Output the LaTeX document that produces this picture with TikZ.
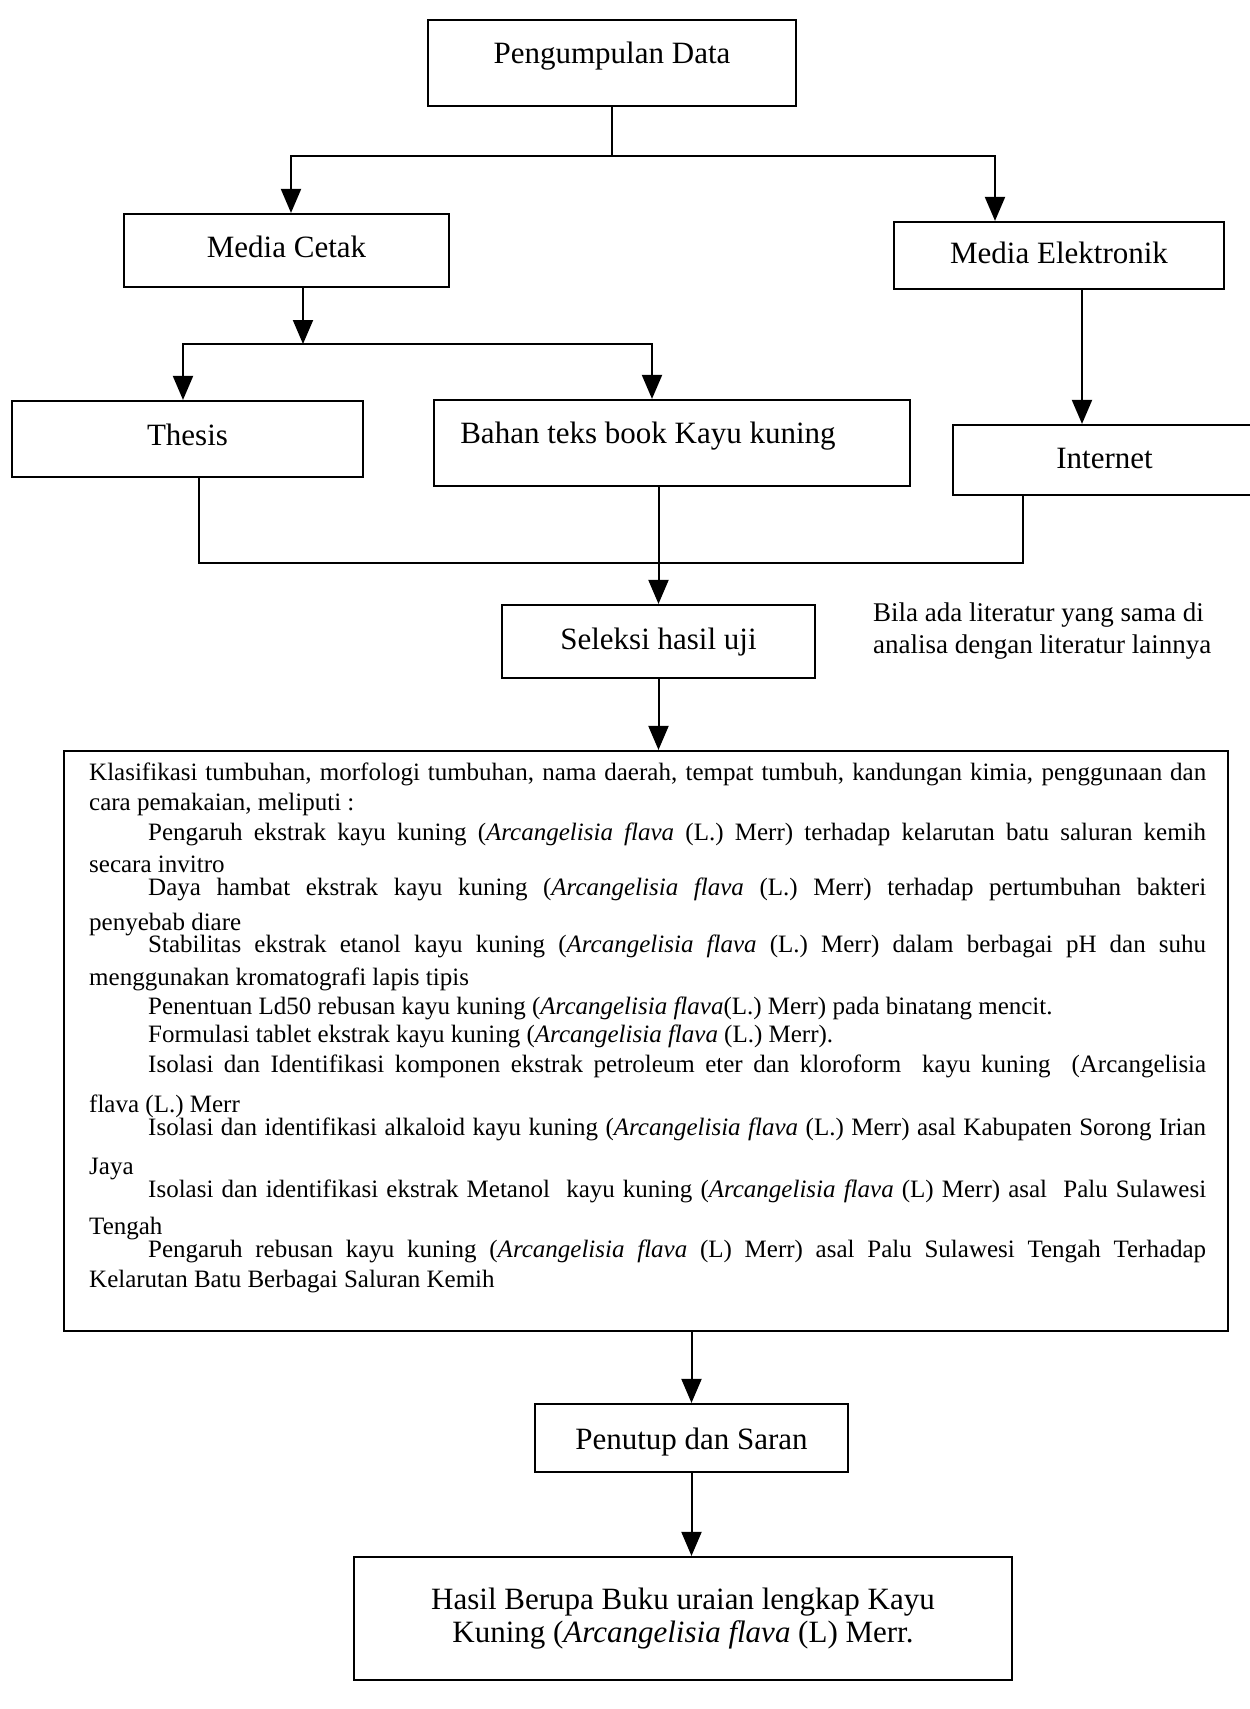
\documentclass[tikz,border=0pt]{standalone}
\usepackage{fontspec}
\setmainfont{Liberation Serif}
\usetikzlibrary{arrows.meta,calc}
\newcommand{\arcfl}{\textit{Arcangelisia flava}}
\begin{document}
\begin{tikzpicture}[x=1pt,y=-1pt,
  box/.style={draw, line width=2.2pt, inner xsep=4pt, inner ysep=0pt, font=\fontsize{31}{37}\selectfont},
  arr/.style={line width=2pt, -{Triangle[length=24pt,width=20pt]}},
  conn/.style={line width=2pt},
  txt/.style={font=\fontsize{25}{29}\selectfont, inner sep=0pt, anchor=mid west}]
\fill[white] (0,0) rectangle (1250,1709);
\useasboundingbox (0,0) rectangle (1250,1709);

% boxes
\node[box, minimum width=368pt, text height=43pt, text depth=43pt] (pd) at (612,63) {Pengumpulan Data};
\node[box, minimum width=325pt, text height=43pt, text depth=30pt] (mc) at (286.5,250.5) {Media Cetak};
\node[box, minimum width=330pt, text height=41pt, text depth=26pt] (me) at (1059,255.5) {Media Elektronik};
\node[box, minimum width=351pt, text height=44pt, text depth=32pt] (th) at (187.5,439) {Thesis};
\node[box, minimum width=476pt, text height=43pt, text depth=43pt] (bt) at (672,443) {\hspace*{-48pt}Bahan teks book Kayu kuning};
\node[box, minimum width=303pt, text height=43pt, text depth=27pt] (it) at (1104.5,460) {Internet};
\node[box, minimum width=313pt, text height=44pt, text depth=29pt] (sl) at (658.5,641.5) {Seleksi hasil uji};
\node[anchor=north west, inner sep=0pt, align=left, font=\fontsize{27}{32}\selectfont] (note) at (873,603) {Bila ada literatur yang sama di\\analisa dengan literatur lainnya};
\node[draw, line width=2.2pt, minimum width=1164pt, minimum height=580pt, inner sep=0pt] (big) at (646,1041) {};
\node[box, minimum width=313pt, text height=45pt, text depth=23pt] (ps) at (691.5,1438) {Penutup dan Saran};
\node[box, minimum width=658pt, minimum height=123pt, align=center, font=\fontsize{31}{33}\selectfont] (hs) at (683,1618.5) {Hasil Berupa Buku uraian lengkap Kayu\\Kuning (\arcfl{} (L) Merr.};

% text of the big box
\node[txt] (l1) at (89,778) {\makebox[1117pt][s]{Klasifikasi tumbuhan, morfologi tumbuhan, nama daerah, tempat tumbuh, kandungan kimia, penggunaan dan}};
\node[txt] (l2) at (89,808) {cara pemakaian, meliputi :};
\node[txt] (l3) at (148,838) {\makebox[1058pt][s]{Pengaruh ekstrak kayu kuning (\arcfl{} (L.) Merr) terhadap kelarutan batu saluran kemih}};
\node[txt] (l4) at (89,870) {secara invitro};
\node[txt] (l5) at (148,893) {\makebox[1058pt][s]{Daya hambat ekstrak kayu kuning (\arcfl{} (L.) Merr) terhadap pertumbuhan bakteri}};
\node[txt] (l6) at (89,928) {penyebab diare};
\node[txt] (l7) at (148,950) {\makebox[1058pt][s]{Stabilitas ekstrak etanol kayu kuning (\arcfl{} (L.) Merr) dalam berbagai pH dan suhu}};
\node[txt] (l8) at (89,983) {menggunakan kromatografi lapis tipis};
\node[txt] (l9) at (148,1012) {Penentuan Ld50 rebusan kayu kuning (\arcfl(L.) Merr) pada binatang mencit.};
\node[txt] (l10) at (148,1040) {Formulasi tablet ekstrak kayu kuning (\arcfl{} (L.) Merr).};
\node[txt] (l11) at (148,1070) {\makebox[1058pt][s]{Isolasi dan Identifikasi komponen ekstrak petroleum eter dan kloroform\ \ kayu kuning\ \ (Arcangelisia}};
\node[txt] (l12) at (89,1110) {flava (L.) Merr};
\node[txt] (l13) at (148,1133) {\makebox[1058pt][s]{Isolasi dan identifikasi alkaloid kayu kuning (\arcfl{} (L.) Merr) asal Kabupaten Sorong Irian}};
\node[txt] (l14) at (89,1172) {Jaya};
\node[txt] (l15) at (148,1195) {\makebox[1058pt][s]{Isolasi dan identifikasi ekstrak Metanol\ \ kayu kuning (\arcfl{} (L) Merr) asal\ \ Palu Sulawesi}};
\node[txt] (l16) at (89,1232) {Tengah};
\node[txt] (l17) at (148,1255) {\makebox[1058pt][s]{Pengaruh rebusan kayu kuning (\arcfl{} (L) Merr) asal Palu Sulawesi Tengah Terhadap}};
\node[txt] (l18) at (89,1285) {Kelarutan Batu Berbagai Saluran Kemih};

% connectors
\coordinate (j1) at (612,156);
\draw[conn] (pd.south) -- (j1);
\draw[arr] (j1) -| ([xshift=4.5pt]mc.north);
\draw[arr] (j1) -| ([xshift=-64pt]me.north);

\coordinate (j2) at (303,344);
\draw[arr] ([xshift=16.5pt]mc.south) -- (j2);
\draw[arr] (j2) -| ([xshift=-4.5pt]th.north);
\draw[arr] (j2) -| ([xshift=-20pt]bt.north);

\coordinate (meo) at ([xshift=23pt]me.south);
\draw[arr] (meo) -- (meo |- it.north);

\coordinate (tho) at ([xshift=11.5pt]th.south);
\coordinate (ito) at ([xshift=-81.5pt]it.south);
\coordinate (j3) at (658,563);
\draw[conn] (tho) |- (j3) -| (ito);
\draw[arr] (bt.south -| sl.north) -- (sl.north);

\draw[arr] (sl.south) -- (sl.south |- big.north);
\draw[arr] (ps.north |- big.south) -- (ps.north);
\draw[arr] (ps.south) -- (ps.south |- hs.north);
\end{tikzpicture}
\end{document}
